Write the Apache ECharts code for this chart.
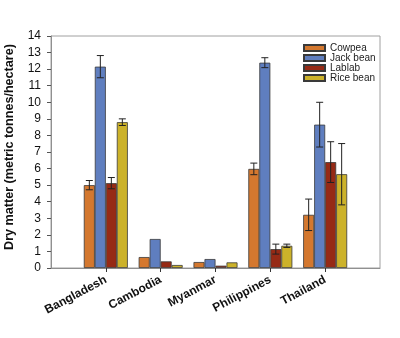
<!DOCTYPE html>
<html>
<head>
<meta charset="utf-8">
<script src="https://cdn.jsdelivr.net/npm/echarts@6/dist/echarts.min.js"></script>
<style>html,body{margin:0;padding:0;background:#fff}#c{width:400px;height:338px}</style>
</head>
<body>
<div id="c"></div>
<script>
var categories = ['', 'Bangladesh', 'Cambodia', 'Myanmar', 'Philippines', 'Thailand', ''];
var seriesNames = ['Cowpea', 'Jack bean', 'Lablab', 'Rice bean'];
var cowpea   = [null, 5.0, 0.66, 0.36, 5.98, 3.21, null];
var jackbean = [null, 12.15, 1.75, 0.54, 12.39, 8.65, null];
var lablab   = [null, 5.12, 0.40, 0.14, 1.14, 6.39, null];
var ricebean = [null, 8.8, 0.18, 0.34, 1.34, 5.66, null];
var cowpeaErr   = [null, 0.28, 0, 0, 0.35, 0.95, null];
var jackbeanErr = [null, 0.67, 0, 0, 0.30, 1.35, null];
var lablabErr   = [null, 0.34, 0, 0, 0.30, 1.23, null];
var ricebeanErr = [null, 0.20, 0, 0, 0.10, 1.85, null];
var yTicks = [0, 1, 2, 3, 4, 5, 6, 7, 8, 9, 10, 11, 12, 13, 14];

var values = [cowpea, jackbean, lablab, ricebean];
var errs = [cowpeaErr, jackbeanErr, lablabErr, ricebeanErr];
var colors = ['#D4782F', '#5F7EBF', '#962A15', '#CCB22A'];
var barW = 11;

var series = [];
values.forEach(function (v, i) {
  series.push({
    name: seriesNames[i], type: 'bar', data: v, barWidth: barW, barGap: '0%',
    itemStyle: { color: colors[i], borderColor: '#3a3a3a', borderWidth: 0.8 },
    z: 2
  });
});
values.forEach(function (v, i) {
  var d = [];
  v.forEach(function (val, k) {
    if (val != null && errs[i][k] > 0) d.push([k, val, errs[i][k]]);
  });
  series.push({
    type: 'custom', z: 5, silent: true,
    data: d,
    renderItem: function (params, api) {
      var x = api.value(0), y = api.value(1), e = api.value(2);
      var hi = api.coord([x, y + e]);
      var lo = api.coord([x, y - e]);
      var cx = hi[0] + (i - 1.5) * barW;
      var cap = 3.5;
      var st = { stroke: '#222', lineWidth: 1 };
      return { type: 'group', children: [
        { type: 'line', shape: { x1: cx, y1: hi[1], x2: cx, y2: lo[1] }, style: st },
        { type: 'line', shape: { x1: cx - cap, y1: hi[1], x2: cx + cap, y2: hi[1] }, style: st },
        { type: 'line', shape: { x1: cx - cap, y1: lo[1], x2: cx + cap, y2: lo[1] }, style: st }
      ]};
    }
  });
});

var chart = echarts.init(document.getElementById('c'));
chart.setOption({
  animation: false,
  backgroundColor: '#fff',
  textStyle: { fontFamily: 'Liberation Sans, Arial, sans-serif' },
  grid: { left: 51, right: 20, top: 36, bottom: 70, show: true, borderColor: '#a0a0a0', borderWidth: 1, backgroundColor: 'transparent', outerBoundsMode: 'none', containLabel: false },
  legend: {
    data: seriesNames, orient: 'vertical', left: 303, top: 43, padding: 0,
    itemWidth: 21, itemHeight: 6, itemGap: 0,
    textStyle: { fontSize: 10, lineHeight: 10, color: '#222', fontFamily: 'Liberation Sans, Arial, sans-serif', padding: [0, 0, 0, 0] },
    icon: 'rect'
  },
  xAxis: {
    type: 'category', data: categories, boundaryGap: false,
    axisLine: { lineStyle: { color: '#909090', width: 1 } },
    axisTick: { inside: false, length: 4, lineStyle: { color: '#333' },
      interval: function (idx) { return idx > 0 && idx < categories.length - 1; } },
    axisLabel: { interval: 0, rotate: 28, fontSize: 12, fontWeight: 'bold', color: '#111', margin: 11,
      fontFamily: 'Liberation Sans, Arial, sans-serif' },
    splitLine: { show: false }
  },
  yAxis: {
    type: 'value', min: yTicks[0], max: yTicks[yTicks.length - 1], interval: 1,
    name: 'Dry matter (metric tonnes/hectare)', nameLocation: 'middle', nameGap: 35,
    nameTextStyle: { fontSize: 12.6, fontWeight: 'bold', color: '#111', fontFamily: 'Liberation Sans, Arial, sans-serif', padding: [0, 0, 0, 10] },
    axisLine: { show: true, lineStyle: { color: '#909090' } },
    axisTick: { show: true, length: 4, lineStyle: { color: '#555' } },
    axisLabel: { fontSize: 12, color: '#111', margin: 10 },
    splitLine: { show: false }
  },
  series: series
});
</script>
</body>
</html>
